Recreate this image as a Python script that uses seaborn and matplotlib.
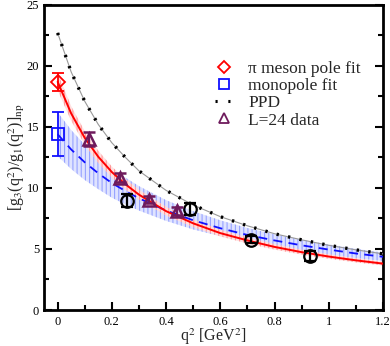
import numpy as np
import pandas as pd
import seaborn as sns
import matplotlib
matplotlib.use("Agg")
import matplotlib.pyplot as plt
from matplotlib.lines import Line2D

# curve samples
q2 = [0, 0.05, 0.1, 0.15, 0.2, 0.25, 0.3, 0.4, 0.5, 0.6, 0.7, 0.8, 0.9, 1.0, 1.1, 1.2]
ppd = [22.7, 19.5, 17.1, 15.2, 13.7, 12.5, 11.4, 9.8, 8.6, 7.65, 6.9, 6.25, 5.75, 5.3, 4.93, 4.6]
mono = [14.4, 13.15, 12.1, 11.2, 10.4, 9.75, 9.15, 8.15, 7.35, 6.7, 6.15, 5.7, 5.3, 4.95, 4.63, 4.36]
mono_err = [1.8, 1.6, 1.45, 1.3, 1.2, 1.1, 1.0, 0.85, 0.75, 0.65, 0.57, 0.5, 0.45, 0.42, 0.38, 0.35]
pole = [18.7, 16.1, 14.1, 12.55, 11.3, 10.3, 9.45, 8.1, 7.1, 6.3, 5.7, 5.17, 4.74, 4.38, 4.07, 3.8]
pole_err = [0.7, 0.6, 0.55, 0.5, 0.45, 0.42, 0.4, 0.35, 0.3, 0.27, 0.25, 0.22, 0.2, 0.18, 0.17, 0.15]

# points
pole_pt = [0.0, 18.7, 0.75]
mono_pt = [0.0, 14.4, 1.8]
l24_x = [0.115, 0.23, 0.338, 0.442]
l24_y = [14.0, 10.85, 9.05, 8.1]
l24_err = [0.55, 0.4, 0.3, 0.35]
circ_x = [0.255, 0.49, 0.715, 0.93]
circ_y = [8.95, 8.3, 5.75, 4.4]
circ_err = [0.55, 0.5, 0.3, 0.4]

sns.set_style("ticks")
plt.rcParams['font.family'] = ['Liberation Serif', 'DejaVu Serif']
plt.rcParams['mathtext.fontset'] = 'stix'
plt.rcParams['hatch.linewidth'] = 0.8

df = pd.DataFrame({"q2": q2, "ppd": ppd, "mono": mono, "pole": pole})
mono_a = np.array(mono); mono_e = np.array(mono_err)
pole_a = np.array(pole); pole_e = np.array(pole_err)

fig = plt.figure(figsize=(3.9, 3.46), dpi=100)
ax = fig.add_axes([0.113, 0.104, 0.869, 0.882])

purple = "#6e1a5c"

ax.fill_between(q2, mono_a - mono_e, mono_a + mono_e, facecolor="#dfe3ff",
                edgecolor="#97a3ff", hatch="||||", linewidth=0, zorder=1)
ax.fill_between(q2, pole_a - pole_e, pole_a + pole_e, facecolor="#ffe0e0",
                edgecolor="#ff9a9a", hatch="||||", linewidth=0, zorder=2)

sns.lineplot(data=df, x="q2", y="mono", ax=ax, color="#1010ff", lw=1.3, zorder=3)
ax.lines[-1].set_dashes([5, 3.5])
sns.lineplot(data=df, x="q2", y="pole", ax=ax, color="red", lw=1.4, zorder=4)
sns.lineplot(data=df, x="q2", y="ppd", ax=ax, color="#999999", lw=0.8, zorder=5)
sns.lineplot(data=df, x="q2", y="ppd", ax=ax, color="black", lw=2.4, zorder=6)
ax.lines[-1].set_dashes([0.7, 2.8])

ax.errorbar(circ_x, circ_y, yerr=circ_err, fmt="o", ms=9, mfc="none", mec="black",
            mew=1.6, ecolor="black", elinewidth=1.6, capsize=4, capthick=1.6, zorder=7)
ax.errorbar(l24_x, l24_y, yerr=l24_err, fmt="^", ms=8, mfc="none", mec=purple,
            mew=1.8, ecolor=purple, elinewidth=1.6, capsize=4, capthick=1.6, zorder=8)
ax.errorbar([pole_pt[0]], [pole_pt[1]], yerr=[pole_pt[2]], fmt="D", ms=7, mfc="none",
            mec="red", mew=1.3, ecolor="red", elinewidth=1.3, capsize=4, capthick=1.3, zorder=9)
ax.errorbar([mono_pt[0]], [mono_pt[1]], yerr=[mono_pt[2]], fmt="s", ms=8, mfc="none",
            mec="#1010ff", mew=1.3, ecolor="#1010ff", elinewidth=1.3, capsize=4, capthick=1.3, zorder=9)

# legend
handles = [
    Line2D([], [], ls="none", marker="D", ms=6, mfc="none", mec="red", mew=1.3),
    Line2D([], [], ls="none", marker="s", ms=6.5, mfc="none", mec="#1010ff", mew=1.3),
    Line2D([], [], color="black", lw=2.2, dashes=[0.7, 3.5]),
    Line2D([], [], ls="none", marker="^", ms=7, mfc="none", mec=purple, mew=1.3),
]
labels = ["π meson pole fit", "monopole fit", "PPD", "L=24 data"]
ax.legend(handles, labels, loc="upper left", bbox_to_anchor=(0.505, 0.815), frameon=False,
          fontsize=12.5, handlelength=1.0, handletextpad=0.9, labelspacing=0.05,
          borderpad=0.0, borderaxespad=0.0)

ax.set_xlim(-0.05, 1.2)
ax.set_ylim(0, 25)
ax.set_xticks([0, 0.2, 0.4, 0.6, 0.8, 1.0, 1.2])
ax.set_xticklabels(["0", "0.2", "0.4", "0.6", "0.8", "1", "1.2"])
ax.set_xticks(np.arange(0.1, 1.2, 0.2), minor=True)
ax.set_yticks([0, 5, 10, 15, 20, 25])
ax.set_yticks([2.5, 7.5, 12.5, 17.5, 22.5], minor=True)
ax.tick_params(which="both", direction="in", right=True, top=False, width=1.5,
               labelsize=9, colors="black")
ax.tick_params(which="major", length=6)
ax.tick_params(which="minor", length=3.5)
ax.tick_params(axis="x", pad=4)
for s in ax.spines.values():
    s.set_linewidth(2)
    s.set_color("black")

ax.set_xlabel(r"q$^2$ [GeV$^2$]", fontsize=11.5, labelpad=-1)
ax.set_ylabel(r"[g$_3$(q$^2$)/g$_1$(q$^2$)]$_{\rm np}$", fontsize=11.5, labelpad=0)

fig.savefig("out.png", dpi=100)
